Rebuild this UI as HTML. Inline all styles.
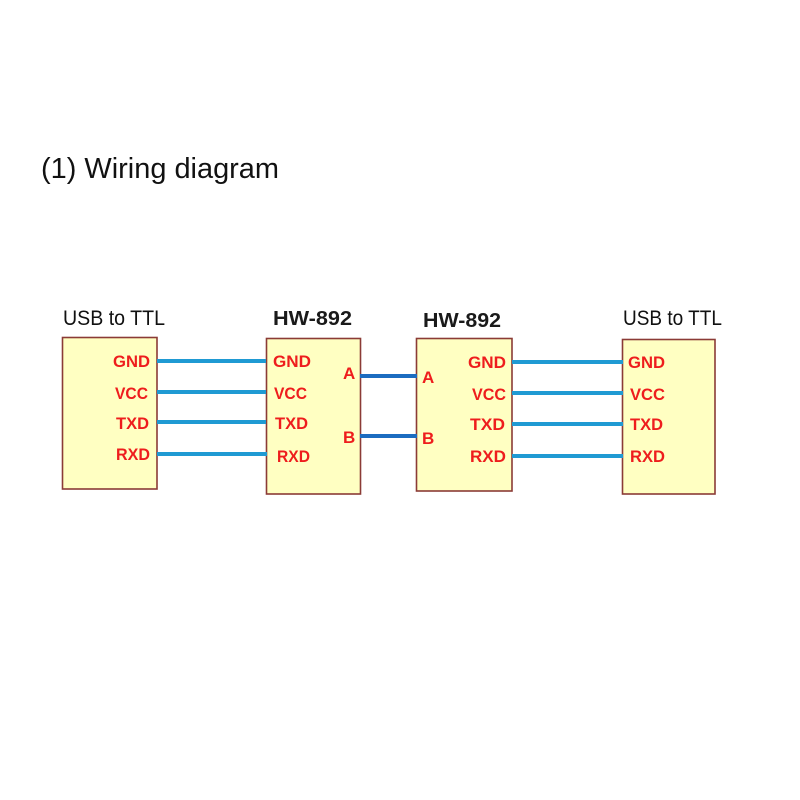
<!DOCTYPE html>
<html>
<head>
<meta charset="utf-8">
<style>
  html, body { margin:0; padding:0; background:#fff; }
  svg { display:block; }
  .title { font-family:"Liberation Sans", sans-serif; font-size:29px; fill:#111; }
  .usb { font-family:"Liberation Sans", sans-serif; font-size:21px; fill:#111; }
  .hw { font-family:"Liberation Sans", sans-serif; font-size:20px; font-weight:bold; fill:#1a1a1a; }
  .lbl { font-family:"Liberation Sans", sans-serif; font-size:17px; font-weight:bold; fill:#ee1d1d; }
</style>
</head>
<body>
<svg width="800" height="800" viewBox="0 0 800 800" xmlns="http://www.w3.org/2000/svg">
  <rect x="0" y="0" width="800" height="800" fill="#ffffff"/>

  <text class="title" x="41" y="178" textLength="238" lengthAdjust="spacingAndGlyphs">(1) Wiring diagram</text>

  <text class="usb" x="63" y="325" textLength="102" lengthAdjust="spacingAndGlyphs">USB to TTL</text>
  <text class="usb" x="623" y="325" textLength="99" lengthAdjust="spacingAndGlyphs">USB to TTL</text>
  <text class="hw" x="273" y="325" textLength="79" lengthAdjust="spacingAndGlyphs">HW-892</text>
  <text class="hw" x="423" y="327" textLength="78" lengthAdjust="spacingAndGlyphs">HW-892</text>

  <!-- boxes -->
  <g fill="#ffffc2" stroke="#8b3b36" stroke-width="1.6">
    <rect x="62.5" y="337.5" width="94.5" height="151.5"/>
    <rect x="266.5" y="338.5" width="94" height="155.5"/>
    <rect x="416.5" y="338.5" width="95.5" height="152.5"/>
    <rect x="622.5" y="339.5" width="92.5" height="154.5"/>
  </g>

  <!-- connecting lines -->
  <g stroke="#1f9ad3" stroke-width="4">
    <line x1="157" y1="361" x2="266" y2="361"/>
    <line x1="157" y1="392" x2="266" y2="392"/>
    <line x1="157" y1="422" x2="266" y2="422"/>
    <line x1="157" y1="454" x2="267" y2="454"/>
    <line x1="512" y1="362" x2="623" y2="362"/>
    <line x1="512" y1="393" x2="623" y2="393"/>
    <line x1="512" y1="424" x2="623" y2="424"/>
    <line x1="512" y1="456" x2="623" y2="456"/>
  </g>
  <g stroke="#1c6cc0" stroke-width="4">
    <line x1="360" y1="376" x2="417" y2="376"/>
    <line x1="360" y1="436" x2="417" y2="436"/>
  </g>

  <!-- box1 labels -->
  <text class="lbl" x="113" y="367" textLength="37" lengthAdjust="spacingAndGlyphs">GND</text>
  <text class="lbl" x="115" y="399" textLength="33" lengthAdjust="spacingAndGlyphs">VCC</text>
  <text class="lbl" x="116" y="429" textLength="33" lengthAdjust="spacingAndGlyphs">TXD</text>
  <text class="lbl" x="116" y="460" textLength="34" lengthAdjust="spacingAndGlyphs">RXD</text>

  <!-- box2 labels -->
  <text class="lbl" x="273" y="367" textLength="38" lengthAdjust="spacingAndGlyphs">GND</text>
  <text class="lbl" x="274" y="399" textLength="33" lengthAdjust="spacingAndGlyphs">VCC</text>
  <text class="lbl" x="275" y="429" textLength="33" lengthAdjust="spacingAndGlyphs">TXD</text>
  <text class="lbl" x="277" y="462" textLength="33" lengthAdjust="spacingAndGlyphs">RXD</text>
  <text class="lbl" x="343" y="379">A</text>
  <text class="lbl" x="343" y="443">B</text>

  <!-- box3 labels -->
  <text class="lbl" x="422" y="383">A</text>
  <text class="lbl" x="422" y="444">B</text>
  <text class="lbl" x="468" y="368" textLength="38" lengthAdjust="spacingAndGlyphs">GND</text>
  <text class="lbl" x="472" y="400" textLength="34" lengthAdjust="spacingAndGlyphs">VCC</text>
  <text class="lbl" x="470" y="430" textLength="35" lengthAdjust="spacingAndGlyphs">TXD</text>
  <text class="lbl" x="470" y="462" textLength="36" lengthAdjust="spacingAndGlyphs">RXD</text>

  <!-- box4 labels -->
  <text class="lbl" x="628" y="368" textLength="37" lengthAdjust="spacingAndGlyphs">GND</text>
  <text class="lbl" x="630" y="400" textLength="35" lengthAdjust="spacingAndGlyphs">VCC</text>
  <text class="lbl" x="630" y="430" textLength="33" lengthAdjust="spacingAndGlyphs">TXD</text>
  <text class="lbl" x="630" y="462" textLength="35" lengthAdjust="spacingAndGlyphs">RXD</text>
</svg>
</body>
</html>
